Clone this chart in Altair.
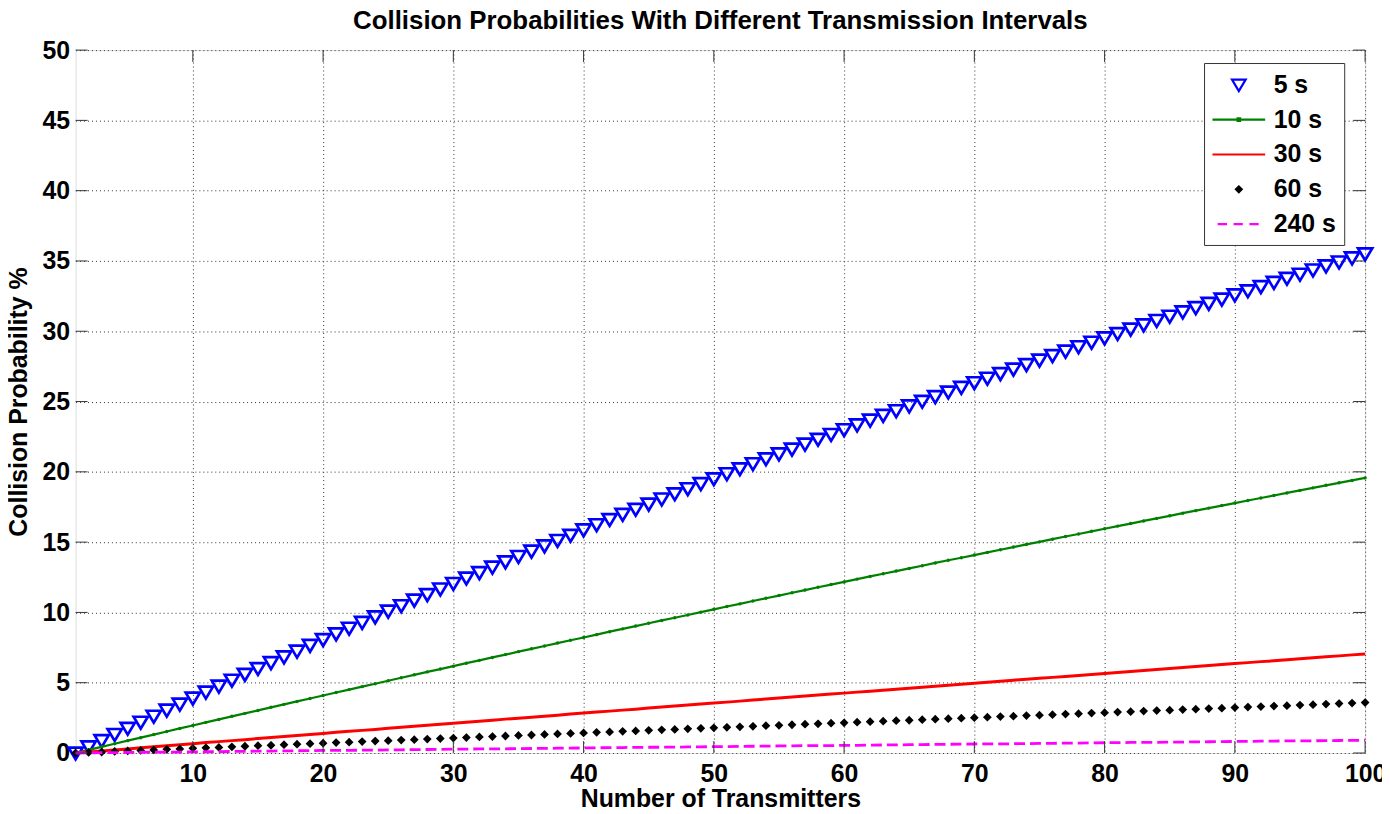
import altair as alt
import pandas as pd

# ---------------- data ----------------
transmitters = list(range(1, 101))

p5 = [0, 0.44, 0.88, 1.32, 1.76, 2.19, 2.62, 3.05, 3.48, 3.91,
      4.33, 4.76, 5.18, 5.60, 6.01, 6.43, 6.84, 7.25, 7.66, 8.07,
      8.48, 8.88, 9.29, 9.69, 10.09, 10.48, 10.88, 11.27, 11.67, 12.06,
      12.45, 12.83, 13.22, 13.60, 13.98, 14.36, 14.74, 15.12, 15.49, 15.87,
      16.24, 16.61, 16.98, 17.34, 17.71, 18.07, 18.44, 18.80, 19.16, 19.51,
      19.87, 20.22, 20.58, 20.93, 21.28, 21.62, 21.97, 22.32, 22.66, 23.00,
      23.34, 23.68, 24.02, 24.35, 24.69, 25.02, 25.35, 25.68, 26.01, 26.34,
      26.66, 26.99, 27.31, 27.63, 27.95, 28.27, 28.59, 28.90, 29.22, 29.53,
      29.84, 30.15, 30.46, 30.77, 31.07, 31.38, 31.68, 31.99, 32.29, 32.59,
      32.88, 33.18, 33.48, 33.77, 34.06, 34.36, 34.65, 34.93, 35.22, 35.51]

p10 = [0, 0.22, 0.44, 0.66, 0.88, 1.09, 1.31, 1.53, 1.75, 1.96,
       2.18, 2.39, 2.61, 2.82, 3.03, 3.25, 3.46, 3.67, 3.88, 4.09,
       4.30, 4.51, 4.72, 4.93, 5.14, 5.35, 5.56, 5.77, 5.97, 6.18,
       6.39, 6.59, 6.80, 7.00, 7.21, 7.41, 7.61, 7.82, 8.02, 8.22,
       8.42, 8.63, 8.83, 9.03, 9.23, 9.43, 9.62, 9.82, 10.02, 10.22,
       10.42, 10.61, 10.81, 11.01, 11.20, 11.40, 11.59, 11.79, 11.98, 12.17,
       12.37, 12.56, 12.75, 12.94, 13.13, 13.32, 13.52, 13.71, 13.89, 14.08,
       14.27, 14.46, 14.65, 14.84, 15.02, 15.21, 15.40, 15.58, 15.77, 15.95,
       16.14, 16.32, 16.51, 16.69, 16.87, 17.06, 17.24, 17.42, 17.60, 17.78,
       17.96, 18.14, 18.32, 18.50, 18.68, 18.86, 19.04, 19.22, 19.39, 19.57]

p30 = [0, 0.07, 0.15, 0.22, 0.29, 0.37, 0.44, 0.52, 0.59, 0.66,
       0.74, 0.81, 0.88, 0.95, 1.03, 1.10, 1.17, 1.25, 1.32, 1.39,
       1.47, 1.54, 1.61, 1.68, 1.76, 1.83, 1.90, 1.97, 2.05, 2.12,
       2.19, 2.26, 2.33, 2.41, 2.48, 2.55, 2.62, 2.69, 2.77, 2.84,
       2.91, 2.98, 3.05, 3.12, 3.20, 3.27, 3.34, 3.41, 3.48, 3.55,
       3.62, 3.69, 3.77, 3.84, 3.91, 3.98, 4.05, 4.12, 4.19, 4.26,
       4.33, 4.40, 4.47, 4.54, 4.61, 4.68, 4.75, 4.82, 4.89, 4.96,
       5.04, 5.11, 5.18, 5.25, 5.31, 5.38, 5.45, 5.52, 5.59, 5.66,
       5.73, 5.80, 5.87, 5.94, 6.01, 6.08, 6.15, 6.22, 6.29, 6.36,
       6.43, 6.50, 6.56, 6.63, 6.70, 6.77, 6.84, 6.91, 6.98, 7.05]

p60 = [0, 0.04, 0.07, 0.11, 0.15, 0.18, 0.22, 0.26, 0.29, 0.33,
       0.37, 0.40, 0.44, 0.48, 0.52, 0.55, 0.59, 0.63, 0.66, 0.70,
       0.74, 0.77, 0.81, 0.85, 0.88, 0.92, 0.95, 0.99, 1.03, 1.06,
       1.10, 1.14, 1.17, 1.21, 1.25, 1.28, 1.32, 1.36, 1.39, 1.43,
       1.47, 1.50, 1.54, 1.57, 1.61, 1.65, 1.68, 1.72, 1.76, 1.79,
       1.83, 1.86, 1.90, 1.94, 1.97, 2.01, 2.05, 2.08, 2.12, 2.15,
       2.19, 2.23, 2.26, 2.30, 2.33, 2.37, 2.41, 2.44, 2.48, 2.51,
       2.55, 2.59, 2.62, 2.66, 2.69, 2.73, 2.77, 2.80, 2.84, 2.87,
       2.91, 2.94, 2.98, 3.02, 3.05, 3.09, 3.12, 3.16, 3.19, 3.23,
       3.27, 3.30, 3.34, 3.37, 3.41, 3.44, 3.48, 3.52, 3.55, 3.59]

p240 = [0, 0.01, 0.02, 0.03, 0.04, 0.05, 0.06, 0.06, 0.07, 0.08,
        0.09, 0.10, 0.11, 0.12, 0.13, 0.14, 0.15, 0.16, 0.17, 0.18,
        0.18, 0.19, 0.20, 0.21, 0.22, 0.23, 0.24, 0.25, 0.26, 0.27,
        0.28, 0.29, 0.30, 0.30, 0.31, 0.32, 0.33, 0.34, 0.35, 0.36,
        0.37, 0.38, 0.39, 0.40, 0.41, 0.41, 0.42, 0.43, 0.44, 0.45,
        0.46, 0.47, 0.48, 0.49, 0.50, 0.51, 0.52, 0.53, 0.53, 0.54,
        0.55, 0.56, 0.57, 0.58, 0.59, 0.60, 0.61, 0.62, 0.63, 0.64,
        0.65, 0.65, 0.66, 0.67, 0.68, 0.69, 0.70, 0.71, 0.72, 0.73,
        0.74, 0.75, 0.76, 0.76, 0.77, 0.78, 0.79, 0.80, 0.81, 0.82,
        0.83, 0.84, 0.85, 0.86, 0.87, 0.87, 0.88, 0.89, 0.90, 0.91]

series_names = ["5 s", "10 s", "30 s", "60 s", "240 s"]
series_colors = ["#0000ff", "#008000", "#ff0000", "#000000", "#ff00ff"]
x_ticks = [10, 20, 30, 40, 50, 60, 70, 80, 90, 100]
y_ticks = [0, 5, 10, 15, 20, 25, 30, 35, 40, 45, 50]

# legend / marker glyphs (legend unit = 12.5 px)
series_shapes = [
    "M-0.55,-0.42L0.55,-0.42L0,0.5Z",                          # 5 s  : open down-triangle
    "M-2.12,0H2.12M-0.1,-0.1H0.1V0.1H-0.1Z",                   # 10 s : line with dot
    "M-2.12,0H2.12",                                         # 30 s : line
    "M0,-0.23L0.23,0L0,0.23L-0.23,0ZM0,-0.1L0.1,0L0,0.1L-0.1,0Z",  # 60 s : diamond dot
    "M-1.7,0H-0.95M-0.42,0H0.32M0.85,0H1.6",                   # 240 s: dashed
]

rows = []
for name, vals in zip(series_names, [p5, p10, p30, p60, p240]):
    for n, v in zip(transmitters, vals):
        rows.append({"n": n, "series": name, "p": v})
df = pd.DataFrame(rows)
xt = pd.DataFrame({"n": x_ticks})
yt = pd.DataFrame({"p": y_ticks})

FONT = "Liberation Sans"
FS = 25
W, H = 1297, 707
TICK = 12
FRAME = "#333333"

xscale = alt.Scale(domain=[1, 100], nice=False, zero=False)
yscale = alt.Scale(domain=[0, 50], nice=False)

xaxis = alt.Axis(values=x_ticks, title="Number of Transmitters", grid=True,
                 gridDash=[1, 3], gridColor="#333333", gridWidth=1,
                 domain=False, ticks=False, labelPadding=9, titlePadding=0,
                 labelFont=FONT, labelFontSize=FS, labelFontWeight="bold",
                 labelColor="black", titleFont=FONT, titleFontSize=FS,
                 titleFontWeight="bold", titleColor="black", labelFlush=False)
yaxis = alt.Axis(values=y_ticks, title="Collision Probability %", grid=True,
                 gridDash=[1, 3], gridColor="#333333", gridWidth=1,
                 domain=False, ticks=False, labelPadding=6, titlePadding=11,
                 labelFont=FONT, labelFontSize=FS, labelFontWeight="bold",
                 labelColor="black", titleFont=FONT, titleFontSize=FS,
                 titleFontWeight="bold", titleColor="black")

X = alt.X("n:Q", scale=xscale, axis=xaxis)
Y = alt.Y("p:Q", scale=yscale, axis=yaxis)

legend = alt.Legend(orient="none", legendX=1135, legendY=13, title=None,
                    symbolSize=625, symbolStrokeWidth=2.2, symbolOpacity=1,
                    symbolOffset=13, labelOffset=21,
                    labelFont=FONT, labelFontSize=FS, labelFontWeight="bold",
                    labelColor="black", rowPadding=8,
                    padding=8, fillColor="white", strokeColor=FRAME,
                    symbolFillColor="transparent")
color_enc = alt.Color("series:N", scale=alt.Scale(domain=series_names, range=series_colors),
                      legend=legend)
shape_enc = alt.Shape("series:N", scale=alt.Scale(domain=series_names, range=series_shapes),
                      legend=legend)

base = alt.Chart(df)

MS = 680

pts5 = base.transform_filter(alt.datum.series == "5 s").mark_point(
    filled=False, opacity=1, strokeWidth=2.7, size=MS).encode(
    x=X, y=Y, color=color_enc, shape=shape_enc)

line10 = base.transform_filter(alt.datum.series == "10 s").mark_line(
    color="#008000", strokeWidth=2.2).encode(x=X, y=Y)
dots10 = base.transform_filter(alt.datum.series == "10 s").mark_circle(
    color="#008000", size=12, opacity=1).encode(x=X, y=Y)

line30 = base.transform_filter(alt.datum.series == "30 s").mark_line(
    color="#ff0000", strokeWidth=3).encode(x=X, y=Y)

pts60 = base.transform_filter(alt.datum.series == "60 s").mark_point(
    filled=False, opacity=1, strokeWidth=2, size=MS).encode(
    x=X, y=Y, color=color_enc, shape=shape_enc)

line240 = base.transform_filter(alt.datum.series == "240 s").mark_line(
    color="#ff00ff", strokeWidth=2.8, strokeDash=[11, 5]).encode(x=X, y=Y)

# inward ticks on all four sides
tb = alt.Chart(xt).mark_rule(color=FRAME, strokeWidth=1).encode(
    x=alt.X("n:Q", scale=xscale), y=alt.value(H), y2=alt.value(H - TICK))
tt = alt.Chart(xt).mark_rule(color=FRAME, strokeWidth=1).encode(
    x=alt.X("n:Q", scale=xscale), y=alt.value(0), y2=alt.value(TICK))
tl = alt.Chart(yt).mark_rule(color=FRAME, strokeWidth=1).encode(
    y=alt.Y("p:Q", scale=yscale), x=alt.value(0), x2=alt.value(TICK))
tr = alt.Chart(yt).mark_rule(color=FRAME, strokeWidth=1).encode(
    y=alt.Y("p:Q", scale=yscale), x=alt.value(W - TICK), x2=alt.value(W))

chart = alt.layer(
    pts5, line10, dots10, line30, pts60, line240, tb, tt, tl, tr
).properties(
    width=W, height=H,
    title=alt.TitleParams("Collision Probabilities With Different Transmission Intervals",
                          font=FONT, fontSize=26, fontWeight="bold", color="black",
                          offset=4, anchor="middle"),
    padding={"left": 68, "top": 40, "right": 17, "bottom": 58},
    autosize=alt.AutoSizeParams(type="none"),
).configure_view(
    stroke=FRAME, strokeWidth=1
).configure(background="white")

chart.save("out.html", embed_options={"renderer": "svg", "actions": False})
